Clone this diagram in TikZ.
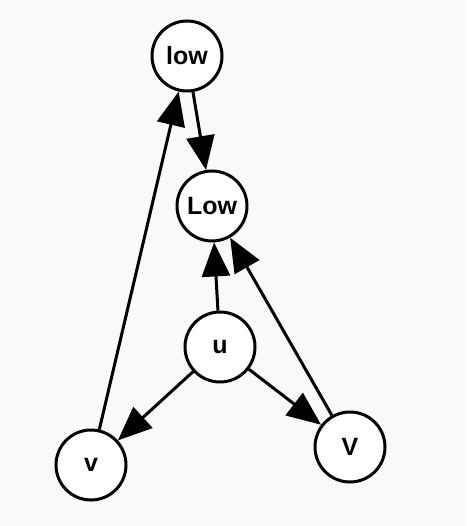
\documentclass[tikz,border=0pt]{standalone}
\usepackage{fontspec}
\newfontfamily\labelfont{Liberation Sans}
\usetikzlibrary{arrows.meta}
\definecolor{bgcolor}{RGB}{249,249,249}

\begin{document}
\begin{tikzpicture}[x=1pt,y=-1pt,
  vertex/.style={draw, circle, line width=3pt, fill=white, minimum size=70pt,
    inner sep=0pt, font=\labelfont\bfseries\fontsize{25}{28}\selectfont},
  edge/.style={line width=3pt, -{Triangle[length=34pt,width=28pt]}}]
  % Background
  \fill[bgcolor] (0,0) rectangle (466,526);

  % Vertices
  \node[vertex] (low) at (187,56) {low};
  \node[vertex] (Low) at (212,206) {Low};
  \node[vertex] (u) at (220,347) {u};
  \node[vertex] (v) at (91,465) {v};
  \node[vertex] (V) at (350,447) {V};

  % Edges
  \draw[edge] (v) -- (low);
  \draw[edge] (low) -- (Low);
  \draw[edge] (u) -- (Low);
  \draw[edge] (u) -- (v);
  \draw[edge] (u) -- (V);
  \draw[edge] (V) -- (Low);
\end{tikzpicture}
\end{document}
